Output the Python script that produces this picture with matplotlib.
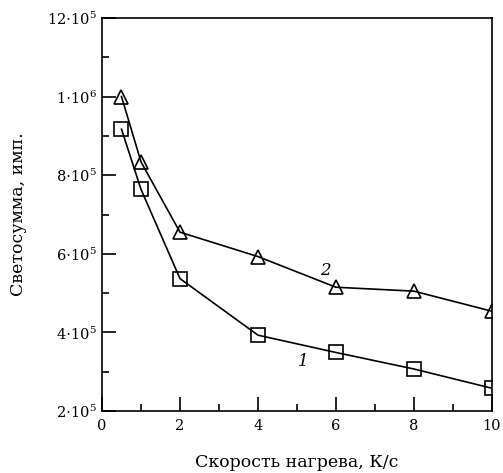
import matplotlib.pyplot as plt
from matplotlib.ticker import MultipleLocator, FixedLocator

# heating rate, K/s
rate = [0.5, 1, 2, 4, 6, 8, 10]
# light sum, counts
curve1 = [9.17e5, 7.64e5, 5.37e5, 3.93e5, 3.49e5, 3.07e5, 2.58e5]
curve2 = [10.0e5, 8.34e5, 6.55e5, 5.93e5, 5.15e5, 5.05e5, 4.54e5]

y_ticks = [2e5, 4e5, 6e5, 8e5, 10e5, 12e5]
y_labels = [r'$2{\cdot}10^5$', r'$4{\cdot}10^5$', r'$6{\cdot}10^5$',
            r'$8{\cdot}10^5$', r'$1{\cdot}10^6$', r'$12{\cdot}10^5$']

plt.rcParams['font.family'] = 'DejaVu Serif'
plt.rcParams['mathtext.fontset'] = 'dejavuserif'
fig = plt.figure(figsize=(5.03, 4.73), dpi=100)
ax = fig.add_axes([0.2028, 0.131, 0.775, 0.831])

ax.plot(rate, curve1, color='black', lw=1.2, marker='s', ms=9.5,
        mfc='none', mec='black', mew=1.2)
ax.plot(rate, curve2, color='black', lw=1.2, marker='^', ms=10,
        mfc='none', mec='black', mew=1.2)

ax.text(5.15, 3.25e5, '1', fontsize=12, style='italic', ha='center', va='center')
ax.text(5.74, 5.57e5, '2', fontsize=12, style='italic', ha='center', va='center')

ax.set_xlim(0, 10)
ax.set_ylim(2e5, 12e5)
ax.xaxis.set_major_locator(MultipleLocator(2))
ax.xaxis.set_minor_locator(MultipleLocator(1))
ax.yaxis.set_major_locator(FixedLocator(y_ticks))
ax.yaxis.set_minor_locator(MultipleLocator(1e5))
ax.set_yticklabels(y_labels)

ax.tick_params(which='both', direction='in', width=1.2, labelsize=10.5,
               top=False, right=False)
ax.tick_params(which='major', length=10)
ax.tick_params(which='minor', length=5)
ax.tick_params(axis='x', which='major', pad=6)
ax.tick_params(axis='y', which='major', pad=3.5)
for s in ax.spines.values():
    s.set_linewidth(1.2)

ax.set_xlabel('Скорость нагрева, К/с', fontsize=12.5)
ax.set_ylabel('Светосумма, имп.', fontsize=12.5)
ax.xaxis.set_label_coords(0.5, -0.11)
ax.yaxis.set_label_coords(-0.193, 0.5)

fig.savefig('out.png', dpi=100)
